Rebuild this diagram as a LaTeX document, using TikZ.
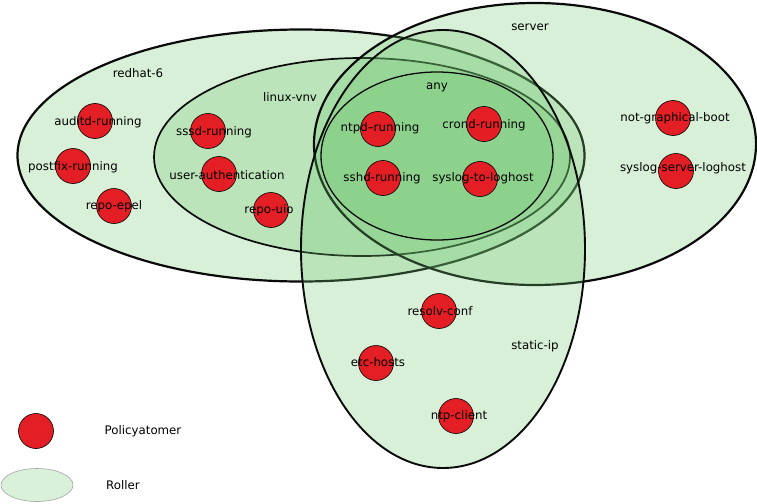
\documentclass[tikz,border=0pt]{standalone}
\usepackage{fontspec}
\setmainfont{DejaVu Sans}
\usetikzlibrary{shapes.geometric}
\definecolor{RoleFill}{HTML}{6EC66E}
\definecolor{RoleLight}{HTML}{D9F0D9}
\definecolor{AtomRed}{HTML}{E31E24}
\definecolor{Edge}{HTML}{0A0A0A}

\begin{document}
\begin{tikzpicture}[x=1pt,y=-1pt,
    role/.style={ellipse,draw=Edge,fill=RoleFill,fill opacity=0.27,draw opacity=1,inner sep=0pt},
    atom/.style={circle,draw=black,line width=0.6pt,fill=AtomRed,minimum size=35pt,inner sep=0pt},
    txt/.style={font=\fontsize{11.8}{13}\selectfont,inner sep=0pt}]
  \useasboundingbox (0,0) rectangle (757,503);

  % roller
  \node[role,line width=2.2pt,minimum width=567pt,minimum height=252pt] (redhat) at (301,155.5) {};
  \node[role,line width=1.7pt,minimum width=416pt,minimum height=198pt] (linuxvnv) at (362,157) {};
  \node[role,line width=2.2pt,minimum width=442pt,minimum height=282pt] (server) at (535,144) {};
  \node[role,line width=1.9pt,minimum width=284pt,minimum height=438pt] (staticip) at (443,249) {};
  \node[role,line width=1.3pt,minimum width=232pt,minimum height=168pt] (any) at (437,156) {};

  \node[txt] (redhat-lbl) at (138,73) {redhat-6};
  \node[txt] (linuxvnv-lbl) at (290,97) {linux-vnv};
  \node[txt] (server-lbl) at (530,27) {server};
  \node[txt] (staticip-lbl) at (535,346) {static-ip};
  \node[txt] (any-lbl) at (437,87) {any};

  % policyatomer
  \foreach \n/\cx/\cy/\lx/\ly/\t in {
      auditd/95/121/98/122/auditd-running,
      postfix/73/166/73/167/postfix-running,
      epel/114/206/114/206/repo-epel,
      sssd/208/131/214/132/sssd-running,
      userauth/219/174/227/175/user-authentication,
      uio/271/210/269/210/repo-uio,
      ntpd/378/129/380/128/ntpd--running,
      crond/484/124/484/125/crond-running,
      sshd/383/178/382/178/sshd-running,
      syslogto/480/179/483/178/syslog-to-loghost,
      notgraph/673/118/675/118/not-graphical-boot,
      syslogsrv/676/171/683/168/syslog-server-loghost,
      resolv/439/311/440/311/resolv-conf,
      etchosts/376/363/378/362/etc-hosts,
      ntpclient/456/416/459/416/ntp-client} {
    \node[atom] (\n) at (\cx,\cy) {};
    \node[txt] (\n-lbl) at (\lx,\ly) {\t};
  }

  % forklaring
  \node[atom] (key-atom) at (36,431) {};
  \node[txt] (key-atom-lbl) at (143,431) {Policyatomer};
  \node[ellipse,draw=gray!70,line width=0.6pt,fill=RoleLight,minimum width=72pt,minimum height=33pt] (key-role) at (37,485) {};
  \node[txt] (key-role-lbl) at (123,485) {Roller};
\end{tikzpicture}
\end{document}
